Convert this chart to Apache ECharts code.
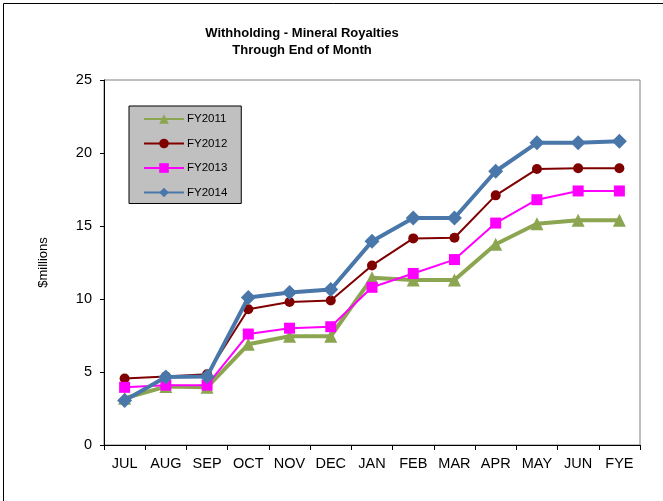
<!DOCTYPE html>
<html><head><meta charset="utf-8">
<script src="https://cdn.jsdelivr.net/npm/echarts@6/dist/echarts.min.js"></script>
<style>html,body{margin:0;padding:0;background:#fff}#c{width:663px;height:501px}</style>
</head><body><div id="c"></div>
<script>
const categories = ['JUL','AUG','SEP','OCT','NOV','DEC','JAN','FEB','MAR','APR','MAY','JUN','FYE'];
const fy2011 = [3.2, 4.0, 3.95, 6.9, 7.45, 7.45, 11.45, 11.3, 11.3, 13.75, 15.15, 15.4, 15.4];
const fy2012 = [4.55, 4.7, 4.85, 9.3, 9.8, 9.9, 12.3, 14.15, 14.2, 17.1, 18.9, 18.95, 18.95];
const fy2013 = [3.95, 4.1, 4.1, 7.6, 8.0, 8.1, 10.8, 11.75, 12.7, 15.2, 16.8, 17.4, 17.4];
const fy2014 = [3.05, 4.65, 4.7, 10.1, 10.45, 10.65, 13.95, 15.55, 15.55, 18.75, 20.7, 20.7, 20.8];
const yTicks = [0, 5, 10, 15, 20, 25];

const font = 'Liberation Sans, Arial, sans-serif';
const chart = echarts.init(document.getElementById('c'), null, {renderer:'canvas'});
chart.setOption({
  animation: false,
  backgroundColor: '#fff',
  title: {
    text: 'Withholding - Mineral Royalties\nThrough End of Month',
    left: 297, top: 20, textAlign: 'center',
    textStyle: {fontFamily: font, fontSize: 13, fontWeight: 'bold', color: '#000', lineHeight: 17}
  },
  graphic: [{
    type: 'rect', shape: {x: 3.5, y: 3.5, width: 700, height: 600},
    style: {fill: 'none', stroke: '#000', lineWidth: 1}, silent: true, z: 0
  }],
  legend: {
    orient: 'vertical', left: 129, top: 106,
    padding: [7, 14, 5, 14],
    backgroundColor: '#c0c0c0', borderColor: '#000', borderWidth: 1,
    itemWidth: 40, itemHeight: 12, itemGap: 12.5,
    textStyle: {fontFamily: font, fontSize: 11.5, color: '#000', padding: [0, 0, 0, -2]},
    data: ['FY2011','FY2012','FY2013','FY2014']
  },
  grid: {left: 104, right: 23, top: 80, bottom: 56, show: true, borderColor: '#808080', borderWidth: 1, containLabel: false},
  xAxis: {
    type: 'category', data: categories, boundaryGap: true,
    axisLine: {lineStyle: {color: '#000', width: 1}},
    axisTick: {show: true, alignWithLabel: false, length: 5, lineStyle: {color: '#000'}},
    axisLabel: {fontFamily: font, fontSize: 14.5, color: '#000', margin: 11, interval: 0},
    splitLine: {show: false}
  },
  yAxis: {
    type: 'value', min: yTicks[0], max: yTicks[yTicks.length-1], interval: 5,
    name: '$millions', nameLocation: 'middle', nameRotate: 90, nameGap: 54,
    nameTextStyle: {fontFamily: font, fontSize: 13, color: '#000'},
    axisLine: {show: true, lineStyle: {color: '#000', width: 1}},
    axisTick: {show: true, length: 4, lineStyle: {color: '#000'}},
    axisLabel: {fontFamily: font, fontSize: 14.5, color: '#000', margin: 12},
    splitLine: {show: false}
  },
  series: [
    {name: 'FY2011', type: 'line', data: fy2011, symbol: 'triangle', symbolSize: 13,
     itemStyle: {color: '#8ca550'}, lineStyle: {color: '#8ca550', width: 4}, z: 2},
    {name: 'FY2012', type: 'line', data: fy2012, symbol: 'circle', symbolSize: 10,
     itemStyle: {color: '#800000'}, lineStyle: {color: '#800000', width: 2}, z: 3},
    {name: 'FY2013', type: 'line', data: fy2013, symbol: 'rect', symbolSize: 11,
     itemStyle: {color: '#ff00ff'}, lineStyle: {color: '#ff00ff', width: 2}, z: 4},
    {name: 'FY2014', type: 'line', data: fy2014, symbol: 'diamond', symbolSize: 15,
     itemStyle: {color: '#4a77aa'}, lineStyle: {color: '#4a77aa', width: 4}, z: 5}
  ]
});
</script></body></html>
